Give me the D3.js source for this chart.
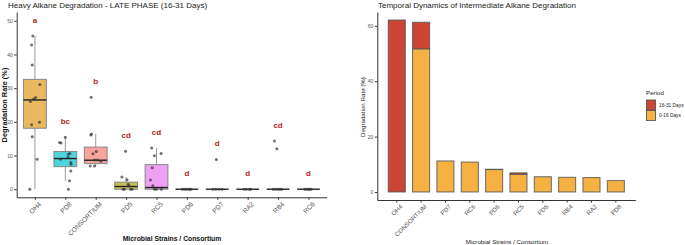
<!DOCTYPE html>
<html>
<head>
<meta charset="utf-8">
<script src="https://cdn.jsdelivr.net/npm/d3@7"></script>
<style>
  html,body{margin:0;padding:0;background:#fff;}
  svg{display:block;font-family:"Liberation Sans",Arial,sans-serif;}
  .tick text{fill:#555;}
  .tick line{stroke:#333;}
</style>
</head>
<body>
<svg id="chart" width="685" height="245"></svg>
<script>
/* ===== Data: left panel (late phase boxplots) ===== */
const catsL = ['OH4','PD8','CONSORTIUM','PD5','RC5','PD6','PD7','RA2','RB4','RC6'];
const fillL = ['#e8b960','#4fd3dc','#f8a39c','#c6bf58','#eea0f2','#e8b960','#e8b960','#e8b960','#e8b960','#e8b960'];
// box stats per category (whisker low, q1, median, q3, whisker high)
const whiskLo = [0, 2.5, 6.8, 0, 0, 0, 0, 0, 0, 0];
const q1      = [18.1, 6.7, 7.6, 0, 0, 0, 0, 0, 0, 0];
const med     = [26.5, 9.1, 8.6, 0.8, 0.5, 0, 0, 0, 0, 0];
const q3      = [32.6, 11.2, 12.5, 2.1, 7.3, 0, 0, 0, 0, 0];
const whiskHi = [45.5, 15.4, 16.4, 3.6, 12.2, 0, 0, 0, 0, 0];
// replicate points (value) and their jitter (fraction of category step)
const ptsL = [
  [45.5,42.8,36.9,31.1,27.2,26.8,26.0,19.9,19.1,15.6,8.9,0],
  [15.4,13.9,13.7,10.6,10.4,9.5,8.9,7.9,7.4,5.4,2.5,0],
  [27.3,16.4,16.1,11.2,10.5,8.7,8.7,8.3,6.9,6.9],
  [11.3,3.6,2.8,1.5,1.0,0,0,0,0],
  [12.2,10.6,9.9,6.4,2.7,1.0,0,0,0],
  [0,0,0,0,0,0],
  [8.8,0,0,0,0],
  [0,0,0,0],
  [14.3,12.0,0,0,0,0,0],
  [0,0,0,0,0]
];
const jitL = [
  [-0.07,-0.11,-0.09,0.16,0.02,-0.04,-0.15,0.15,-0.11,-0.09,0.07,-0.17],
  [0,-0.19,-0.14,0.15,0.1,0.09,-0.16,0.18,0.19,0.18,0.14,0.1],
  [-0.15,-0.14,-0.16,0.02,-0.09,-0.04,0.06,0.17,-0.18,-0.04],
  [-0.02,-0.14,0.03,0.07,0.09,-0.1,-0.06,0.15,0.2],
  [-0.16,0.15,-0.07,-0.14,-0.2,-0.12,-0.07,0,0.16],
  [-0.15,-0.08,-0.02,0.05,0.1,0.14],
  [-0.03,-0.15,-0.05,0.05,0.15],
  [-0.12,-0.05,0.05,0.1],
  [-0.12,-0.04,-0.16,-0.08,0,0.06,0.12],
  [-0.12,-0.06,0,0.04,0.09]
];
const letters = ['a','bc','b','cd','cd','d','d','d','cd','d'];

/* ===== Data: right panel (stacked bars) ===== */
const catsR = ['OH4','CONSORTIUM','PD7','RC6','PD6','RC5','PD5','RB4','RA2','PD8'];
const early = [0, 51.7, 11.2, 10.8, 8.1, 6.4, 5.5, 5.3, 5.2, 4.1];   // 0-16 Days
const late  = [62.1, 9.6, 0, 0, 0.1, 0.5, 0, 0, 0, 0];              // 16-31 Days
const periods = ['16-31 Days','0-16 Days'];
const periodColor = {'16-31 Days':'#cc4433','0-16 Days':'#f5b142'};
const ticksL = [0,10,20,30,40,50];
const ticksR = [0,20,40,60];

const svg = d3.select('#chart');

/* ===== Left panel ===== */
const xL = d3.scalePoint().domain(catsL).range([16.7,326.7]).padding(0.6);
const yL = d3.scaleLinear().domain([-2.4,52.6]).range([197.3,12]);
const stepL = xL.step(), bwL = stepL*0.75;
const gL = svg.append('g');

gL.append('text').attr('x',8).attr('y',8).attr('font-size',8).attr('fill','#222')
  .text('Heavy Alkane Degradation - LATE PHASE (16-31 Days)');

catsL.forEach((c,i)=>{
  const cx = xL(c);
  gL.append('line').attr('x1',cx).attr('x2',cx).attr('y1',yL(whiskLo[i])).attr('y2',yL(whiskHi[i]))
    .attr('stroke','#999').attr('stroke-width',1);
  gL.append('rect').attr('x',cx-bwL/2).attr('width',bwL)
    .attr('y',yL(q3[i])).attr('height',Math.max(0,yL(q1[i])-yL(q3[i])))
    .attr('fill',fillL[i]).attr('stroke','#888').attr('stroke-width',1);
  gL.append('line').attr('x1',cx-bwL/2).attr('x2',cx+bwL/2).attr('y1',yL(med[i])).attr('y2',yL(med[i]))
    .attr('stroke','#222').attr('stroke-width',1.4);
});
catsL.forEach((c,i)=>{
  gL.selectAll(null).data(ptsL[i]).enter().append('circle')
    .attr('cx',(d,j)=>xL(c)+jitL[i][j]*stepL).attr('cy',d=>yL(d)).attr('r',1.5)
    .attr('fill','#333').attr('fill-opacity',0.7);
  gL.append('text').attr('x',xL(c)).attr('y',yL(d3.max(ptsL[i])+4.8)).attr('dy','0.35em')
    .attr('text-anchor','middle').attr('font-size',8).attr('font-weight','bold').attr('fill','#b22222')
    .text(letters[i]);
});

const axL = gL.append('g').attr('transform','translate(16.7,0)')
  .call(d3.axisLeft(yL).tickValues(ticksL).tickSize(2.5).tickSizeOuter(0).tickPadding(1.5));
axL.selectAll('text').attr('font-size',5);
const axLb = gL.append('g').attr('transform','translate(0,197.3)')
  .call(d3.axisBottom(xL).tickSize(2.5).tickSizeOuter(0).tickFormat(''));
axLb.selectAll('.tick').append('text').attr('transform','translate(3,4) rotate(-45)')
  .attr('text-anchor','end').attr('dy','0.7em').attr('font-size',6.6).attr('fill','#555').text(d=>d);
[axL,axLb].forEach(a=>a.select('.domain').attr('stroke','#333').attr('stroke-width',1));

gL.append('text').attr('transform','translate(7,105) rotate(-90)').attr('text-anchor','middle')
  .attr('font-size',7.4).attr('font-weight','bold').attr('fill','#111').text('Degradation Rate (%)');
gL.append('text').attr('x',172).attr('y',241).attr('text-anchor','middle')
  .attr('font-size',6.8).attr('font-weight','bold').attr('fill','#111').text('Microbial Strains / Consortium');

/* ===== Right panel ===== */
const xR = d3.scaleBand().domain(catsR).range([377.3,635.3]).paddingInner(0.3).paddingOuter(0.45);
const yR = d3.scaleLinear().domain([-2.9,65]).range([200,12]);
const gR = svg.append('g');

gR.append('text').attr('x',378).attr('y',8).attr('font-size',8).attr('fill','#222')
  .text('Temporal Dynamics of Intermediate Alkane Degradation');

const table = catsR.map((c,i)=>({cat:c,'0-16 Days':early[i],'16-31 Days':late[i]}));
const stacked = d3.stack().keys(['0-16 Days','16-31 Days'])(table);
stacked.forEach(s=>{
  gR.selectAll(null).data(s).enter().append('rect')
    .attr('x',d=>xR(d.data.cat)).attr('width',xR.bandwidth())
    .attr('y',d=>yR(d[1])).attr('height',d=>yR(d[0])-yR(d[1]))
    .attr('fill',periodColor[s.key]).attr('stroke','#555').attr('stroke-opacity',0.85).attr('stroke-width',1);
});

const axR = gR.append('g').attr('transform','translate(377.3,0)')
  .call(d3.axisLeft(yR).tickValues(ticksR).tickSize(2.5).tickSizeOuter(0).tickPadding(1.5));
axR.selectAll('text').attr('font-size',5);
const axRb = gR.append('g').attr('transform','translate(0,200)')
  .call(d3.axisBottom(xR).tickSize(2.5).tickSizeOuter(0).tickFormat(''));
axRb.selectAll('.tick').append('text').attr('transform','translate(3,4) rotate(-45)')
  .attr('text-anchor','end').attr('dy','0.7em').attr('font-size',6.2).attr('fill','#555').text(d=>d);
[axR,axRb].forEach(a=>a.select('.domain').attr('stroke','#333').attr('stroke-width',1));

gR.append('text').attr('transform','translate(365,107) rotate(-90)').attr('text-anchor','middle')
  .attr('font-size',6.2).attr('fill','#222').text('Degradation Rate (%)');
gR.append('text').attr('x',507).attr('y',244).attr('text-anchor','middle')
  .attr('font-size',6.2).attr('fill','#222').text('Microbial Strains / Consortium');

// legend
const lg = gR.append('g').attr('transform','translate(646,90)');
lg.append('text').attr('x',0).attr('y',5).attr('font-size',6.2).attr('fill','#222').text('Period');
periods.forEach((p,i)=>{
  lg.append('rect').attr('x',0.5).attr('y',10+i*10.5).attr('width',9).attr('height',10)
    .attr('fill',periodColor[p]).attr('stroke','#555').attr('stroke-width',0.9);
  lg.append('text').attr('x',13).attr('y',15+i*10.5).attr('dy','0.35em').attr('font-size',4.8)
    .attr('fill','#222').text(p);
});
</script>
</body>
</html>
